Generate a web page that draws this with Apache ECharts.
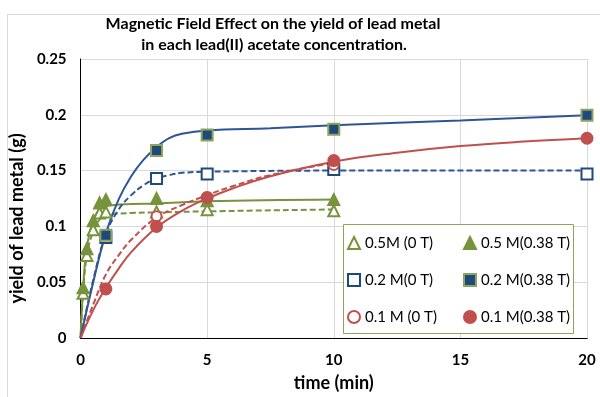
<!DOCTYPE html>
<html><head><meta charset="utf-8">
<script src="https://cdn.jsdelivr.net/npm/echarts@6/dist/echarts.min.js"></script>
<style>html,body{margin:0;padding:0;background:#fff}#c{width:600px;height:397px}</style>
</head><body><div id="c"></div>
<script>
// ---- data ----
var titleLines = ['Magnetic Field Effect on the yield of lead metal', 'in each lead(II) acetate concentration.'];
var xTicks = [0, 5, 10, 15, 20];
var yTicks = [0, 0.05, 0.1, 0.15, 0.2, 0.25];
var seriesNames = ['0.5M (0 T)', '0.5 M(0.38 T)', '0.2 M(0 T)', '0.2 M(0.38 T)', '0.1 M (0 T)', '0.1 M(0.38 T)'];

// measured points [time (min), yield (g)]
var pts05M0T   = [[0.1,0.040],[0.25,0.074],[0.5,0.097],[0.75,0.112],[1,0.113],[3,0.113],[5,0.115],[10,0.114]];
var pts05M038T = [[0.1,0.045],[0.25,0.080],[0.5,0.105],[0.75,0.121],[1,0.124],[3,0.125],[5,0.123],[10,0.124]];
var pts02M0T   = [[1,0.090],[3,0.143],[5,0.147],[10,0.151],[20,0.147]];
var pts02M038T = [[1,0.092],[3,0.168],[5,0.182],[10,0.187],[20,0.1995]];
var pts01M0T   = [[3,0.109],[5,0.126],[10,0.155]];
var pts01M038T = [[1,0.044],[3,0.100],[5,0.126],[10,0.159],[20,0.179]];

// trend curves
var fit05M0T   = [[0,0],[0.1,0.040],[0.25,0.074],[0.5,0.096],[0.75,0.106],[1,0.110],[2,0.112],[3,0.1125],[5,0.1135],[10,0.1152]];
var fit05M038T = [[0,0],[0.1,0.045],[0.25,0.082],[0.5,0.106],[0.75,0.115],[1,0.118],[2,0.120],[3,0.1205],[5,0.1225],[10,0.124]];
var fit02M0T   = [[0,0],[0.5,0.052],[1,0.093],[1.5,0.115],[2,0.128],[2.5,0.137],[3,0.143],[3.5,0.146],[4,0.148],[5,0.149],[10,0.150],[20,0.150]];
var fit02M038T = [[0,0],[0.5,0.050],[1,0.094],[1.5,0.124],[2,0.145],[2.5,0.160],[3,0.171],[3.5,0.179],[4,0.183],[5,0.186],[7.5,0.188],[10,0.1906],[15,0.195],[20,0.1995]];
var fit01M0T   = [[0,0],[0.5,0.030],[1,0.057],[1.5,0.074],[2,0.088],[3,0.108],[4,0.119],[5,0.128],[6,0.136],[7.5,0.146],[10,0.157]];
var fit01M038T = [[0,0],[0.5,0.025],[1,0.045],[1.5,0.062],[2,0.077],[3,0.099],[4,0.114],[5,0.125],[6,0.134],[7.5,0.145],[10,0.158],[12.5,0.166],[15,0.172],[17.5,0.176],[20,0.179]];

// ---- styling ----
var GREEN = '#77933C', BLUE = '#2F5597', BLUEFILL = '#1F497D', RED = '#C0504D';
var FONT = 'Lato';

function fitLine(data, color, dashed) {
  return {type:'line', data:data, smooth:0.4, showSymbol:false, silent:true,
    lineStyle:{color:color, width:2, type: dashed ? [6,3] : 'solid'}, z:2, legendHoverLink:false};
}
function marks(name, data, symbol, size, fill, border) {
  return {type:'scatter', name:name, data:data, symbol:symbol, symbolSize:size,
    itemStyle:{color:fill, borderColor:border, borderWidth:2, opacity:1}, z:3};
}
var legendText = {fontSize:15, fontFamily:FONT, color:'#000', lineHeight:16};

var chart = echarts.init(document.getElementById('c'), null, {renderer:'canvas'});
chart.setOption({
  animation:false,
  backgroundColor:'#fff',
  textStyle:{fontFamily:FONT},
  graphic:[
    {type:'rect', shape:{x:7.5, y:14.5, width:600, height:400}, style:{fill:'none', stroke:'#d9d9d9', lineWidth:1}, z:-10},
    {type:'text', x:273, y:24, style:{text:titleLines[0], font:'bold 16px ' + FONT, fill:'#000', align:'center', verticalAlign:'middle'}},
    {type:'text', x:274, y:45, style:{text:titleLines[1], font:'bold 16px ' + FONT, fill:'#000', align:'center', verticalAlign:'middle'}},
    {type:'rect', shape:{x:343.5, y:224.5, width:230, height:109}, style:{fill:'#fff', stroke:'#8DA45C', lineWidth:1}, z:5}
  ],
  grid:{left:79, right:13, top:59, bottom:56, containLabel:false},
  legend:[
    {data:[seriesNames[0], seriesNames[2], seriesNames[4]], orient:'vertical', left:347, top:235, itemGap:21, padding:0,
     itemWidth:12, itemHeight:12, textStyle:legendText, z:6, selectedMode:false},
    {data:[seriesNames[1], seriesNames[3], seriesNames[5]], orient:'vertical', left:463, top:235, itemGap:21, padding:0,
     itemWidth:12, itemHeight:12, textStyle:legendText, z:6, selectedMode:false}
  ],
  xAxis:[
    {type:'value', min:xTicks[0], max:xTicks[xTicks.length-1], interval:xTicks[1]-xTicks[0],
     name:'time (min)', nameLocation:'middle', nameGap:36,
     nameTextStyle:{fontWeight:'bold', fontSize:18, color:'#000', fontFamily:FONT},
     axisLine:{lineStyle:{color:'#000', width:1}}, axisTick:{show:false},
     axisLabel:{fontWeight:'bold', fontSize:15, color:'#000', margin:15, fontFamily:FONT},
     splitLine:{show:true, lineStyle:{color:'#d9d9d9', width:1}}},
    {type:'value', position:'top', min:xTicks[0], max:xTicks[xTicks.length-1], interval:xTicks[1]-xTicks[0],
     axisLine:{show:true, lineStyle:{color:'#000', width:1}}, axisTick:{show:false}, axisLabel:{show:false}, splitLine:{show:false}}
  ],
  yAxis:[
    {type:'value', min:yTicks[0], max:yTicks[yTicks.length-1], interval:yTicks[1]-yTicks[0],
     name:'yield of lead metal (g)', nameLocation:'middle', nameGap:46,
     nameTextStyle:{fontWeight:'bold', fontSize:18, color:'#000', fontFamily:FONT, padding:[0,40,0,0]},
     axisLine:{show:true, lineStyle:{color:'#bfbfbf', width:1}}, axisTick:{show:false},
     axisLabel:{fontWeight:'bold', fontSize:15, color:'#000', margin:14, fontFamily:FONT,
       formatter:function(v){ for (var i=0;i<yTicks.length;i++){ if (Math.abs(yTicks[i]-v)<1e-9) return String(yTicks[i]); } return ''; }},
     splitLine:{show:true, lineStyle:{color:'#d9d9d9', width:1}}},
    {type:'value', position:'right', min:yTicks[0], max:yTicks[yTicks.length-1], interval:yTicks[1]-yTicks[0],
     axisLine:{show:true, lineStyle:{color:'#000', width:1}}, axisTick:{show:false}, axisLabel:{show:false}, splitLine:{show:false}}
  ],
  series:[
    fitLine(fit05M0T, GREEN, true),
    fitLine(fit05M038T, GREEN, false),
    fitLine(fit02M0T, BLUE, true),
    fitLine(fit02M038T, BLUE, false),
    fitLine(fit01M0T, RED, true),
    fitLine(fit01M038T, RED, false),
    marks(seriesNames[0], pts05M0T, 'triangle', 11, '#fff', GREEN),
    marks(seriesNames[1], pts05M038T, 'triangle', 11, GREEN, GREEN),
    marks(seriesNames[2], pts02M0T, 'rect', 11, '#fff', BLUEFILL),
    marks(seriesNames[4], pts01M0T, 'circle', 10, '#fff', RED),
    marks(seriesNames[5], pts01M038T, 'circle', 11, RED, RED),
    marks(seriesNames[3], pts02M038T, 'rect', 11, BLUEFILL, '#8DA45C')
  ]
});
</script></body></html>
